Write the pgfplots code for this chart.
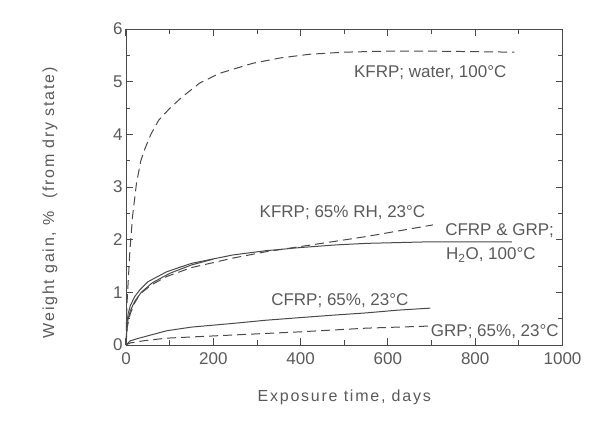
\documentclass[border=0pt]{standalone}
\usepackage{fontspec}
\setmainfont{Liberation Sans}
\newfontfamily\spaced[LetterSpace=11]{Liberation Sans}
\usepackage{pgfplots}
\pgfplotsset{compat=1.18}
\definecolor{ink}{HTML}{4A4A4A}
\definecolor{txt}{HTML}{5A5A5A}
\begin{document}
\begin{tikzpicture}
\begin{axis}[
 at={(0pt,0pt)}, anchor=south west,
 scale only axis, width=436.5pt, height=316pt,
 xmin=0,xmax=1000,ymin=0,ymax=6,
 xtick={0,200,400,600,800,1000}, minor xtick={100,300,500,700,900},
 ytick={0,1,2,3,4,5,6}, minor ytick={0.5,1.5,2.5,3.5,4.5,5.5},
 xtick pos=both, ytick pos=both,
 tick align=inside, major tick length=7pt, minor tick length=4.5pt,
 axis line style={draw=ink, line width=0.9pt},
 major tick style={draw=ink, line width=1pt},
 minor tick style={draw=ink, line width=0.9pt},
 tick label style={font=\fontsize{17}{17}\selectfont, text=txt},
 x tick label style={yshift=-4pt},
 /pgf/number format/assume math mode=true,
 /pgf/number format/1000 sep={},
 xlabel={Exposure time, days},
 ylabel={Weight gain, \%\ \ (from dry state)},
 label style={font=\spaced\fontsize{16}{16}\selectfont, text=txt},
 x label style={at={(axis description cs:0.5,0)}, anchor=center, yshift=-52pt},
 y label style={at={(axis description cs:-0.174,0.45)}, anchor=center},
 cycle list={{ink, line width=1pt, solid}},
]
% KFRP; water, 100C
\addplot[ink, line width=1pt, no marks, dash pattern=on 9pt off 5pt] coordinates {(0,0) (1,0.5) (3,0.9) (5,1.2) (9,1.8) (15,2.44) (24,3.07) (34,3.5) (43,3.72) (57,4.0) (75,4.27) (101,4.5) (130,4.72) (170,4.98) (215,5.16) (291,5.35) (353,5.45) (420,5.52) (500,5.56) (600,5.58) (700,5.58) (890,5.56)};
% KFRP; 65% RH, 23C
\addplot[ink, line width=1pt, no marks, dash pattern=on 9pt off 5pt] coordinates {(0,0) (3,0.35) (10,0.6) (20,0.8) (32,0.97) (60,1.15) (93,1.3) (150,1.47) (245,1.65) (320,1.77) (400,1.87) (480,1.97) (551,2.06) (620,2.16) (703,2.28)};
% CFRP & GRP; H2O 100C
\addplot[ink, line width=1pt, no marks, solid] coordinates {(0,0) (2,0.4) (5,0.6) (10,0.75) (20,0.92) (32,1.05) (50,1.2) (93,1.39) (150,1.55) (245,1.71) (320,1.79) (399,1.85) (480,1.9) (551,1.93) (700,1.96) (884,1.96)};
\addplot[ink, line width=1pt, no marks, solid] coordinates {(0,0) (2,0.3) (5,0.5) (10,0.65) (20,0.83) (35,1.0) (60,1.18) (100,1.36) (150,1.52) (200,1.63)};
% CFRP; 65%, 23C
\addplot[ink, line width=1pt, no marks, solid] coordinates {(0,0) (10,0.08) (30,0.13) (93,0.27) (150,0.34) (245,0.41) (320,0.47) (399,0.52) (480,0.57) (551,0.61) (620,0.66) (697,0.70)};
% GRP; 65%, 23C
\addplot[ink, line width=1pt, no marks, dash pattern=on 9pt off 5pt] coordinates {(0,0) (10,0.04) (40,0.08) (93,0.13) (245,0.19) (399,0.25) (551,0.32) (697,0.36)};
\begin{scope}[every node/.style={font=\fontsize{17}{17}\selectfont, text=txt, inner sep=0pt}]
\node at (axis cs:697,5.18) {KFRP; water, 100°C};
\node at (axis cs:496,2.51) {KFRP; 65\% RH, 23°C};
\node[anchor=west] at (axis cs:731,2.17) {CFRP \& GRP;};
\node[anchor=west] at (axis cs:733,1.71) {H\textsubscript{2}O, 100°C};
\node at (axis cs:490,0.85) {CFRP; 65\%, 23°C};
\node at (axis cs:845,0.25) {GRP; 65\%, 23°C};
\end{scope}
\end{axis}
\path (-126pt,-80pt) rectangle (489pt,345pt);
\end{tikzpicture}
\end{document}
